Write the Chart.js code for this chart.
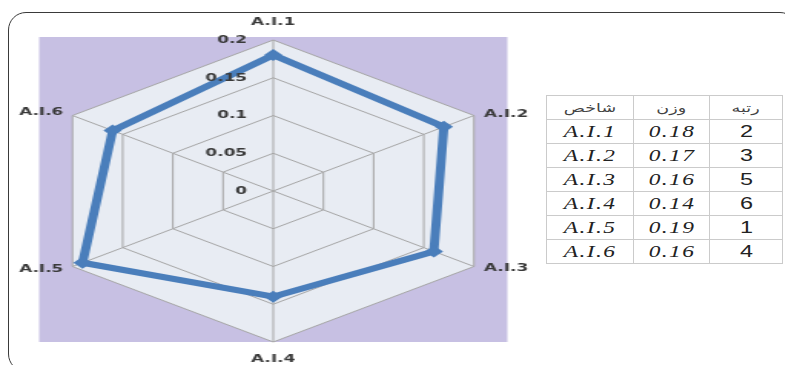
<!DOCTYPE html>
<html><head><meta charset="utf-8">
<script src="https://cdn.jsdelivr.net/npm/chart.js@4"></script>
<style>
html,body{margin:0;padding:0;background:#fff;width:785px;height:365px;overflow:hidden;position:relative;}
#frame{position:absolute;left:8px;top:12px;width:790px;height:360px;border:1.5px solid #3a3a3a;border-radius:18px;box-sizing:border-box;}
#wrap{position:absolute;left:0;top:0;width:360px;height:365px;transform:scaleX(1.535);transform-origin:0 0;}
#tbl{position:absolute;left:546px;top:95px;border-collapse:collapse;background:#fff;}
#tbl td{border:1px solid #cbcbcb;height:23px;padding:0;text-align:center;vertical-align:middle;line-height:20px;}
.s{display:inline-block;transform:scaleX(1.46);white-space:nowrap;}
.h{font-family:"DejaVu Sans",sans-serif;font-size:12px;color:#444;}
.it{font-family:"Liberation Serif",serif;font-style:italic;font-size:16px;color:#222;letter-spacing:1px;}
.rk{font-family:"Liberation Sans",Arial,sans-serif;font-size:16px;color:#222;}
</style></head>
<body>
<div id="frame"></div>
<div id="wrap"><canvas id="c" width="360" height="365"></canvas></div>
<table id="tbl"></table>
<script>
const labels = ['A.I.1','A.I.2','A.I.3','A.I.4','A.I.5','A.I.6'];
const weights = [0.18,0.17,0.16,0.14,0.19,0.16];
const weightText = ['0.18','0.17','0.16','0.14','0.19','0.16'];
const ranks = [2,3,5,6,1,4];
const tickValues = [0,0.05,0.1,0.15,0.2];
const tickLabels = ['0','0.05','0.1','0.15','0.2'];
const headers = ['شاخص','وزن','رتبه'];
const colWidths = [86,75,72];

// table
const tbl = document.getElementById('tbl');
let html = '<tr>' + headers.map((h,i)=>'<td style="width:'+colWidths[i]+'px"><span class="s h">'+h+'</span></td>').join('') + '</tr>';
labels.forEach((l,i)=>{
  html += '<tr><td><span class="s it">'+l+'</span></td><td><span class="s it">'+weightText[i]+'</span></td><td><span class="s rk">'+ranks[i]+'</span></td></tr>';
});
tbl.innerHTML = html;

const excelLook = {
  id:'excelLook',
  beforeDraw(chart){
    const s = chart.scales.r, ctx = chart.ctx, R = s.drawingArea;
    ctx.save();
    ctx.fillStyle = '#c7c0e3';
    ctx.fillRect(s.xCenter - R - 1.5, s.yCenter - R - 3, 2*R + 3, 2*R + 3);
    ctx.restore();
  },
  afterDraw(chart){
    const s = chart.scales.r, ctx = chart.ctx;
    ctx.save();
    ctx.fillStyle = '#3a3a3a';
    ctx.font = 'bold 11px "DejaVu Sans"';
    ctx.textAlign = 'right'; ctx.textBaseline = 'middle';
    tickValues.forEach((v,i)=>{
      const y = s.yCenter - s.getDistanceFromCenterForValue(v);
      ctx.fillText(tickLabels[i], s.xCenter - 17, y);
    });
    chart.data.labels.forEach((lab,i)=>{
      const p = s.getPointPosition(i, s.drawingArea);
      const dx = p.x - s.xCenter, dy = p.y - s.yCenter;
      let x = p.x, y = p.y;
      if (Math.abs(dx) < 1) { ctx.textAlign='center'; y += dy < 0 ? -18 : 17; }
      else if (dx > 0) { ctx.textAlign='left'; x += 6.5; y += dy < 0 ? -1 : 2; }
      else { ctx.textAlign='right'; x -= 6; y += dy < 0 ? -3 : 3; }
      ctx.fillText(lab, x, y);
    });
    ctx.restore();
  }
};

new Chart(document.getElementById('c'), {
  type:'radar',
  data:{ labels: labels, datasets:[{
    data: weights, borderColor:'#4a7ebb', backgroundColor:'#4a7ebb', borderWidth:6, fill:false,
    pointStyle:'rectRot', pointRadius:6, pointBorderWidth:0, pointBackgroundColor:'#4a7ebb', tension:0
  }]},
  options:{
    responsive:false, animation:false, devicePixelRatio:1,
    layout:{padding:{left:27, top:40, right:30, bottom:22}},
    plugins:{legend:{display:false}, tooltip:{enabled:false}},
    scales:{ r:{
      min:0, max:0.2, beginAtZero:true,
      ticks:{display:false, stepSize:0.05},
      afterBuildTicks:(sc)=>{ sc.ticks = tickValues.map(v=>({value:v})); },
      grid:{color:'#a6a6a6', lineWidth:1},
      angleLines:{color:'#a6a6a6', lineWidth:1},
      pointLabels:{display:false},
      backgroundColor:'#e8ecf3'
    }}
  },
  plugins:[excelLook]
});
</script>
</body></html>
